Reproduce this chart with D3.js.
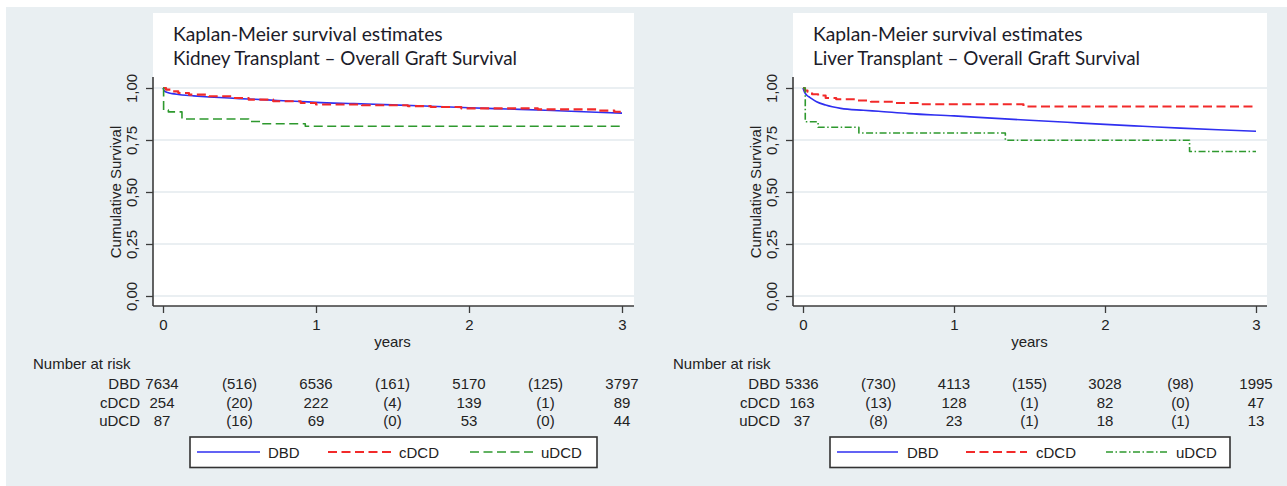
<!DOCTYPE html>
<html>
<head>
<meta charset="utf-8">
<script src="https://cdn.jsdelivr.net/npm/d3@7"></script>
<style>
  body { margin: 0; background: #ffffff; }
  svg { display: block; }
</style>
</head>
<body>
<svg id="chart" width="1287" height="486"></svg>
<script>
// ---- Axis ticks and labels ----
const yearTicks = [0, 1, 2, 3];
const survTicks = [0, 0.25, 0.5, 0.75, 1];
const survTickLabels = ["0,00", "0,25", "0,50", "0,75", "1,00"];
const groups = ["DBD", "cDCD", "uDCD"];
const riskTimes = [0, 0.5, 1, 1.5, 2, 2.5, 3];

// ---- Kidney transplant: survival estimates [years, survival] ----
const kidneyDBD = [[0, 1], [0.01, 0.985], [0.03, 0.978], [0.06, 0.973], [0.1, 0.969], [0.15, 0.965],
  [0.2, 0.962], [0.3, 0.957], [0.4, 0.953], [0.5, 0.949], [0.6, 0.946], [0.75, 0.940], [0.9, 0.935],
  [1, 0.931], [1.25, 0.925], [1.5, 0.919], [1.75, 0.912], [2, 0.905], [2.25, 0.899], [2.5, 0.893],
  [2.75, 0.886], [3, 0.879]];
const kidneyCDCD = [[0, 1], [0.02, 0.992], [0.06, 0.984], [0.1, 0.976], [0.17, 0.968], [0.3, 0.960],
  [0.45, 0.952], [0.56, 0.944], [0.72, 0.936], [0.9, 0.928], [1.0, 0.921], [1.3, 0.917], [1.6, 0.913],
  [1.75, 0.909], [1.95, 0.902], [2.45, 0.897], [2.85, 0.891], [2.95, 0.886], [3, 0.886]];
const kidneyUDCD = [[0, 1], [0.004, 0.894], [0.035, 0.885], [0.124, 0.851], [0.56, 0.839],
  [0.64, 0.828], [0.93, 0.816], [3, 0.816]];

// ---- Liver transplant: survival estimates [years, survival] ----
const liverDBD = [[0, 1], [0.01, 0.98], [0.025, 0.965], [0.045, 0.955], [0.09, 0.934], [0.15, 0.918],
  [0.25, 0.902], [0.4, 0.893], [0.5, 0.888], [0.7, 0.877], [1, 0.866], [1.25, 0.855], [1.5, 0.845],
  [1.75, 0.835], [2, 0.825], [2.25, 0.816], [2.5, 0.807], [2.75, 0.799], [3, 0.792]];
const liverCDCD = [[0, 1], [0.012, 0.988], [0.03, 0.982], [0.06, 0.970], [0.1, 0.964], [0.15, 0.952],
  [0.22, 0.946], [0.35, 0.940], [0.45, 0.934], [0.6, 0.928], [0.76, 0.922], [1.46, 0.911], [3, 0.911]];
const liverUDCD = [[0, 1], [0.015, 0.838], [0.1, 0.811], [0.37, 0.784], [1.34, 0.749], [2.56, 0.695],
  [3, 0.695]];

// ---- Number at risk (at 0,1,2,3 years) and failures within each year ----
const kidneyAtRiskDBD = [7634, 6536, 5170, 3797];
const kidneyEventsDBD = [516, 161, 125];
const kidneyAtRiskCDCD = [254, 222, 139, 89];
const kidneyEventsCDCD = [20, 4, 1];
const kidneyAtRiskUDCD = [87, 69, 53, 44];
const kidneyEventsUDCD = [16, 0, 0];

const liverAtRiskDBD = [5336, 4113, 3028, 1995];
const liverEventsDBD = [730, 155, 98];
const liverAtRiskCDCD = [163, 128, 82, 47];
const liverEventsCDCD = [13, 1, 0];
const liverAtRiskUDCD = [37, 23, 18, 13];
const liverEventsUDCD = [8, 1, 1];

// ---- Styling ----
const colors = { DBD: "#2f2ff0", cDCD: "#f22a2a", uDCD: "#2e992e" };
const uiFont = "'Liberation Sans', Arial, sans-serif";
const titleFont = "Lato, 'Open Sans', sans-serif";
const textColor = "#222";
const axisColor = "#3c3c3c";

// Interleave at-risk counts with bracketed failure counts along riskTimes
function riskRow(atRisk, events) {
  const out = [];
  atRisk.forEach((n, i) => {
    out.push(String(n));
    if (i < events.length) out.push("(" + events[i] + ")");
  });
  return out;
}

const panels = [
  {
    title: ["Kaplan-Meier survival estimates", "Kidney Transplant \u2013 Overall Graft Survival"],
    titleWidths: [270, 344],
    ox: 0, axisX: 153, x0: 163, x3: 622, right: 634,
    series: [kidneyDBD, kidneyCDCD, kidneyUDCD],
    rows: [riskRow(kidneyAtRiskDBD, kidneyEventsDBD), riskRow(kidneyAtRiskCDCD, kidneyEventsCDCD),
           riskRow(kidneyAtRiskUDCD, kidneyEventsUDCD)],
    greenDash: "9,4.5",
    legend: { x: 190, w: 407, keys: [7, 138, 280], keyLen: 63, textGap: 8 }
  },
  {
    title: ["Kaplan-Meier survival estimates", "Liver Transplant \u2013 Overall Graft Survival"],
    titleWidths: [270, 327],
    ox: 640, axisX: 793, x0: 803, x3: 1256, right: 1267,
    series: [liverDBD, liverCDCD, liverUDCD],
    rows: [riskRow(liverAtRiskDBD, liverEventsDBD), riskRow(liverAtRiskCDCD, liverEventsCDCD),
           riskRow(liverAtRiskUDCD, liverEventsUDCD)],
    greenDash: "7,2.5,1.5,2.5",
    legend: { x: 830, w: 400, keys: [7, 136, 276], keyLen: 61, textGap: 9 }
  }
];

const svg = d3.select("#chart");
svg.append("rect").attr("width", 1287).attr("height", 486).attr("fill", "#ffffff");
svg.append("rect").attr("x", 6).attr("y", 7).attr("width", 1281).attr("height", 479).attr("fill", "#e9eff2");

const yScale = d3.scaleLinear().domain([0, 1]).range([296, 88]);
const plotTop = 13, axisY = 306, axisTop = 77;

function lineStyle(name, p) {
  if (name === "DBD") return { dash: null, width: 1.6 };
  if (name === "cDCD") return { dash: "9,4.5", width: 2.1 };
  return { dash: p.greenDash, width: 1.6 };
}

function drawPanel(p) {
  const g = svg.append("g");
  const x = d3.scaleLinear().domain([0, 3]).range([p.x0, p.x3]);

  // White plot region including the title area
  g.append("rect")
    .attr("x", p.axisX).attr("y", plotTop)
    .attr("width", p.right - p.axisX).attr("height", axisY - plotTop)
    .attr("fill", "#ffffff");

  // Horizontal grid lines
  g.append("g").selectAll("line").data(survTicks).join("line")
    .attr("x1", p.axisX).attr("x2", p.right)
    .attr("y1", d => yScale(d)).attr("y2", d => yScale(d))
    .attr("stroke", "#e3eaee").attr("stroke-width", 1.4);

  // Two-line title, each line fitted to its width
  const tg = g.append("g").attr("font-family", titleFont).attr("fill", "#1c1c2a");
  const t1 = tg.append("text").attr("x", p.axisX + 20).attr("y", 41).attr("font-size", 16).text(p.title[0]);
  const fs = 16 * p.titleWidths[0] / t1.node().getComputedTextLength();
  t1.attr("font-size", fs);
  tg.append("text").attr("x", p.axisX + 20).attr("y", 64.5).attr("font-size", fs)
    .attr("textLength", p.titleWidths[1]).attr("lengthAdjust", "spacingAndGlyphs")
    .text(p.title[1]);

  // Survival curves
  const stepLine = d3.line().x(d => x(d[0])).y(d => yScale(d[1])).curve(d3.curveStepAfter);
  const smoothLine = d3.line().x(d => x(d[0])).y(d => yScale(d[1])).curve(d3.curveMonotoneX);
  p.series.forEach((data, i) => {
    const name = groups[i];
    const st = lineStyle(name, p);
    g.append("path")
      .attr("d", name === "DBD" ? smoothLine(data) : stepLine(data))
      .attr("fill", "none")
      .attr("stroke", colors[name])
      .attr("stroke-width", st.width)
      .attr("stroke-dasharray", st.dash)
      .attr("stroke-linejoin", "round");
  });

  // Y axis
  const yAxis = d3.axisLeft(yScale).tickValues(survTicks)
    .tickFormat((d, i) => survTickLabels[i]).tickSize(7).tickSizeOuter(0);
  const ya = g.append("g").attr("transform", `translate(${p.axisX},0)`).call(yAxis)
    .attr("font-family", uiFont).attr("font-size", 15);
  ya.select(".domain").remove();
  ya.selectAll(".tick line").attr("stroke", axisColor).attr("stroke-width", 1.3);
  ya.selectAll(".tick text")
    .attr("x", 0).attr("dy", null)
    .attr("transform", "translate(-16,0) rotate(-90)")
    .attr("text-anchor", "middle").attr("fill", textColor);
  g.append("line")
    .attr("x1", p.axisX).attr("x2", p.axisX).attr("y1", axisTop).attr("y2", axisY)
    .attr("stroke", axisColor).attr("stroke-width", 1.6);

  // X axis
  const xAxis = d3.axisBottom(x).tickValues(yearTicks).tickFormat(d3.format("d"))
    .tickSize(7).tickPadding(6).tickSizeOuter(0);
  const xa = g.append("g").attr("transform", `translate(0,${axisY})`).call(xAxis)
    .attr("font-family", uiFont).attr("font-size", 15);
  xa.select(".domain").remove();
  xa.selectAll(".tick line").attr("stroke", axisColor).attr("stroke-width", 1.3);
  xa.selectAll(".tick text").attr("fill", textColor);
  g.append("line")
    .attr("x1", p.axisX).attr("x2", p.right).attr("y1", axisY).attr("y2", axisY)
    .attr("stroke", axisColor).attr("stroke-width", 1.6);

  // Axis titles
  g.append("text")
    .attr("transform", `translate(${p.axisX - 32.5},${(yScale(0) + yScale(1)) / 2}) rotate(-90)`)
    .attr("text-anchor", "middle").attr("font-family", uiFont).attr("font-size", 15)
    .attr("fill", textColor).text("Cumulative Survival");
  g.append("text")
    .attr("x", (p.x0 + p.x3) / 2).attr("y", 346.5)
    .attr("text-anchor", "middle").attr("font-family", uiFont).attr("font-size", 15)
    .attr("fill", textColor).text("years");

  // Number-at-risk table
  const rt = g.append("g").attr("font-family", uiFont).attr("font-size", 15).attr("fill", textColor);
  rt.append("text").attr("x", p.ox + 33).attr("y", 369).text("Number at risk");
  const rowY = [388.5, 407.5, 425.5];
  p.rows.forEach((row, r) => {
    rt.append("text").attr("x", p.ox + 140).attr("y", rowY[r]).attr("text-anchor", "end").text(groups[r]);
    rt.append("g").selectAll("text").data(row).join("text")
      .attr("x", (d, i) => x(riskTimes[i]) - (i === 0 ? 1 : 0))
      .attr("y", rowY[r]).attr("text-anchor", "middle").text(d => d);
  });

  // Legend
  const L = p.legend;
  const lg = g.append("g");
  lg.append("rect").attr("x", L.x).attr("y", 437).attr("width", L.w).attr("height", 30.5)
    .attr("fill", "#ffffff").attr("stroke", "#333").attr("stroke-width", 1.6);
  groups.forEach((name, i) => {
    const st = lineStyle(name, p);
    const kx = L.x + L.keys[i];
    lg.append("line").attr("x1", kx).attr("x2", kx + L.keyLen).attr("y1", 452).attr("y2", 452)
      .attr("stroke", colors[name]).attr("stroke-width", st.width).attr("stroke-dasharray", st.dash);
    lg.append("text").attr("x", kx + L.keyLen + L.textGap).attr("y", 457.5)
      .attr("font-family", uiFont).attr("font-size", 15).attr("fill", textColor).text(name);
  });
}

panels.forEach(drawPanel);
</script>
</body>
</html>
